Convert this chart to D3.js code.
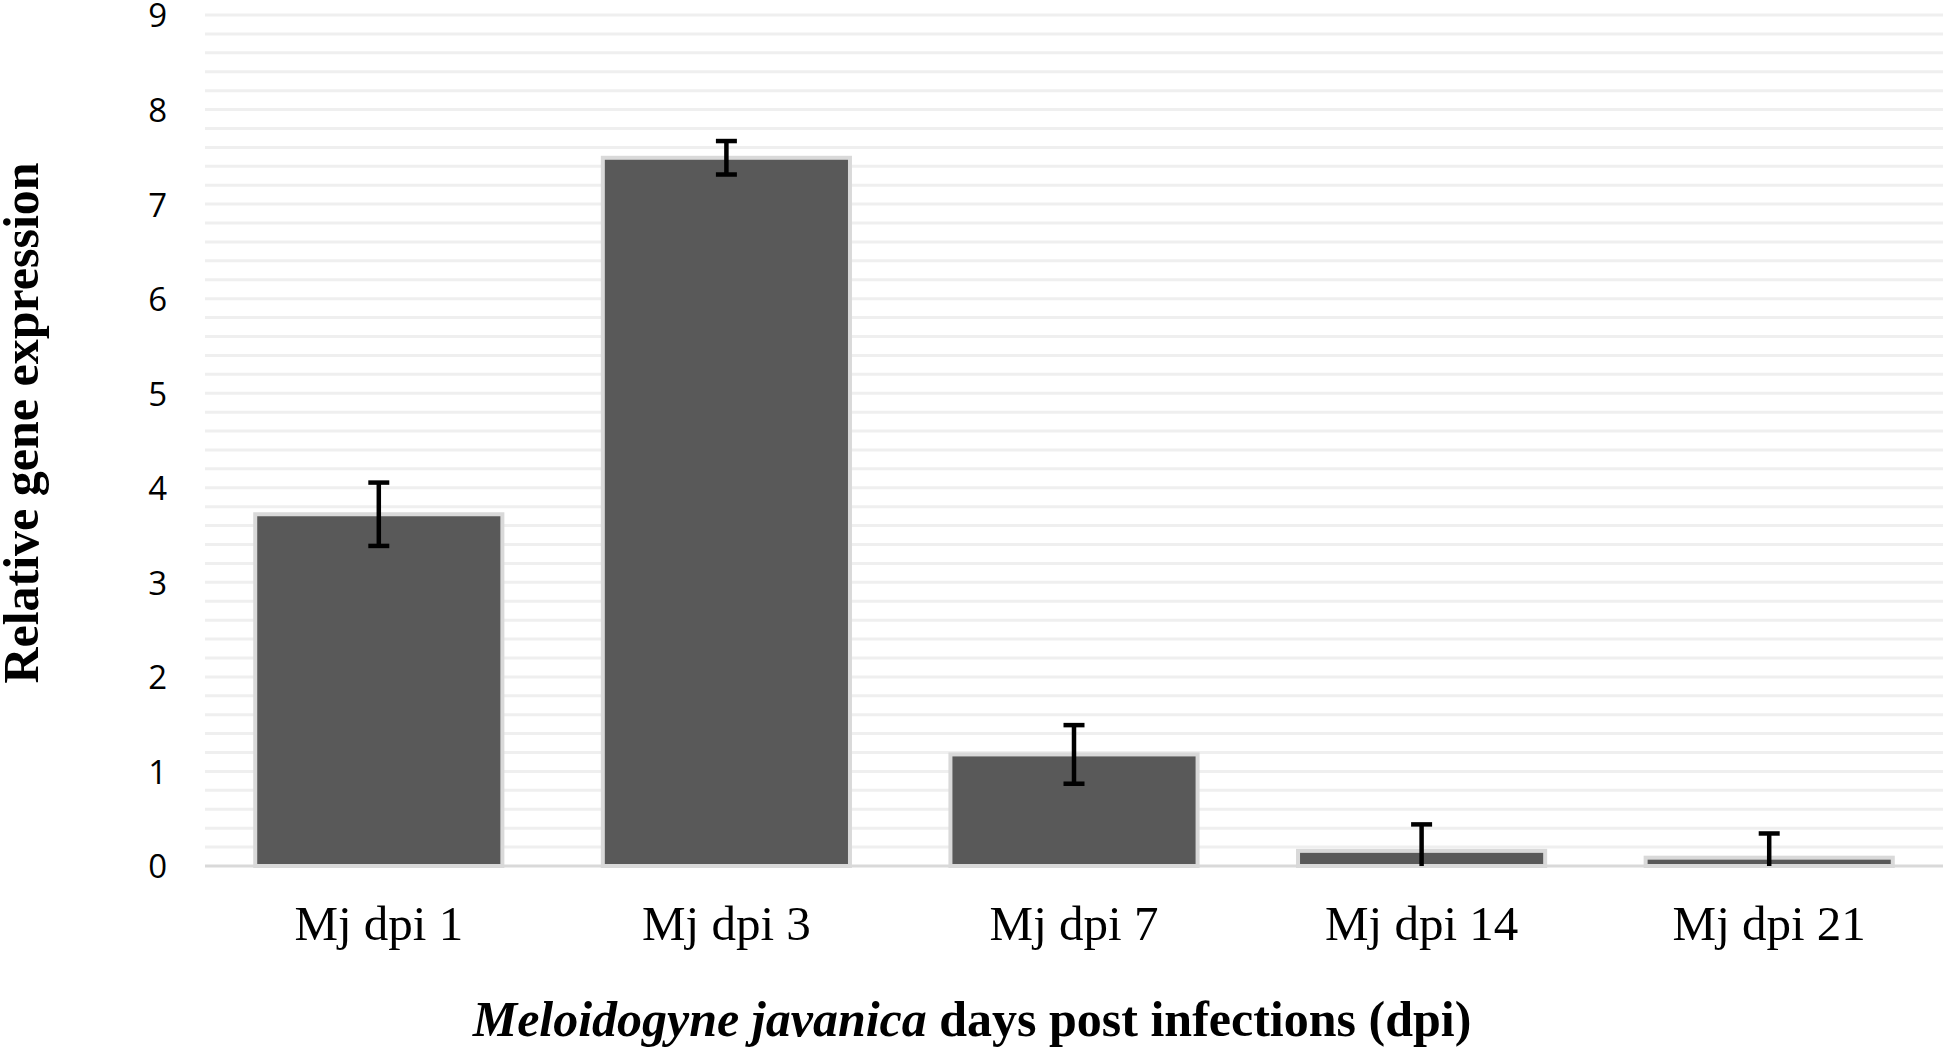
<!DOCTYPE html>
<html>
<head>
<meta charset="utf-8">
<script src="https://cdn.jsdelivr.net/npm/d3@7"></script>
<style>
  html, body { margin: 0; padding: 0; background: #fff; }
  svg { display: block; }
</style>
</head>
<body>
<svg id="chart" width="1943" height="1048"></svg>
<script>
// ---- data ----
const categories = ["Mj dpi 1", "Mj dpi 3", "Mj dpi 7", "Mj dpi 14", "Mj dpi 21"];
const values = [3.72, 7.49, 1.18, 0.16, 0.088];
const errors = [0.335, 0.177, 0.31, 0.28, 0.256];
const yTicks = [0, 1, 2, 3, 4, 5, 6, 7, 8, 9];
const yTitle = "Relative gene expression";
const xTitleItalic = "Meloidogyne javanica";
const xTitleRest = " days post infections (dpi)";

// ---- layout ----
const W = 1943, H = 1048;
const plotLeft = 205, plotRight = 1943, plotTop = 15, plotBottom = 866;

const svg = d3.select("#chart");

const x = d3.scaleBand().domain(categories).range([plotLeft, plotRight]).paddingInner(0).paddingOuter(0);
const y = d3.scaleLinear().domain([0, 9]).range([plotBottom, plotTop]);

// minor gridlines every 0.2
const gridVals = d3.range(0, 46).map(i => i * 0.2).filter(v => v > 0.001);
svg.append("g").selectAll("line").data(gridVals).join("line")
  .attr("x1", plotLeft).attr("x2", plotRight)
  .attr("y1", d => y(d)).attr("y2", d => y(d))
  .attr("stroke", "#efefef").attr("stroke-width", 3);

// baseline
svg.append("line")
  .attr("x1", plotLeft).attr("x2", plotRight)
  .attr("y1", y(0)).attr("y2", y(0))
  .attr("stroke", "#d9d9d9").attr("stroke-width", 3);

// bars
const barFrac = 0.711;
const bw = x.bandwidth() * barFrac;
svg.append("g").selectAll("rect").data(categories).join("rect")
  .attr("x", d => x(d) + (x.bandwidth() - bw) / 2)
  .attr("width", bw)
  .attr("y", (d, i) => y(values[i]))
  .attr("height", (d, i) => y(0) - y(values[i]))
  .attr("fill", "#595959")
  .attr("stroke", "#d9d9d9")
  .attr("stroke-width", 4);

// error bars
const capW = 21;
const eg = svg.append("g").attr("stroke", "#000").attr("stroke-width", 4.5);
categories.forEach((c, i) => {
  const cx = x(c) + x.bandwidth() / 2;
  const hi = values[i] + errors[i];
  const lo = Math.max(0, values[i] - errors[i]);
  eg.append("line").attr("x1", cx).attr("x2", cx).attr("y1", y(hi)).attr("y2", y(lo));
  eg.append("line").attr("x1", cx - capW / 2).attr("x2", cx + capW / 2).attr("y1", y(hi)).attr("y2", y(hi));
  if (values[i] - errors[i] > 0) {
    eg.append("line").attr("x1", cx - capW / 2).attr("x2", cx + capW / 2).attr("y1", y(lo)).attr("y2", y(lo));
  }
});

// y axis
const yAxis = svg.append("g").attr("transform", `translate(${plotLeft},0)`)
  .call(d3.axisLeft(y).tickValues(yTicks).tickSize(0).tickPadding(38).tickFormat(d3.format("d")));
yAxis.select(".domain").remove();
yAxis.selectAll("text")
  .attr("font-family", "'Open Sans', 'Noto Sans', sans-serif")
  .attr("font-size", 33)
  .attr("fill", "#000")
  .attr("dy", "0.36em");

// x axis
const xAxis = svg.append("g").attr("transform", `translate(0,${plotBottom})`)
  .call(d3.axisBottom(x).tickSize(0).tickPadding(0));
xAxis.select(".domain").remove();
xAxis.selectAll("text")
  .attr("font-family", "'Liberation Serif', 'Times New Roman', serif")
  .attr("font-size", 49)
  .attr("fill", "#000")
  .attr("dy", null)
  .attr("y", 74);

// y title
svg.append("text")
  .attr("transform", `translate(38,423) rotate(-90)`)
  .attr("text-anchor", "middle")
  .attr("font-family", "'Liberation Serif', 'Times New Roman', serif")
  .attr("font-weight", "bold")
  .attr("font-size", 50)
  .attr("fill", "#000")
  .text(yTitle);

// x title
const xt = svg.append("text")
  .attr("x", 972).attr("y", 1036)
  .attr("text-anchor", "middle")
  .attr("font-family", "'Liberation Serif', 'Times New Roman', serif")
  .attr("font-weight", "bold")
  .attr("font-size", 50)
  .attr("fill", "#000");
xt.append("tspan").attr("font-style", "italic").text(xTitleItalic);
xt.append("tspan").text(xTitleRest);
</script>
</body>
</html>
